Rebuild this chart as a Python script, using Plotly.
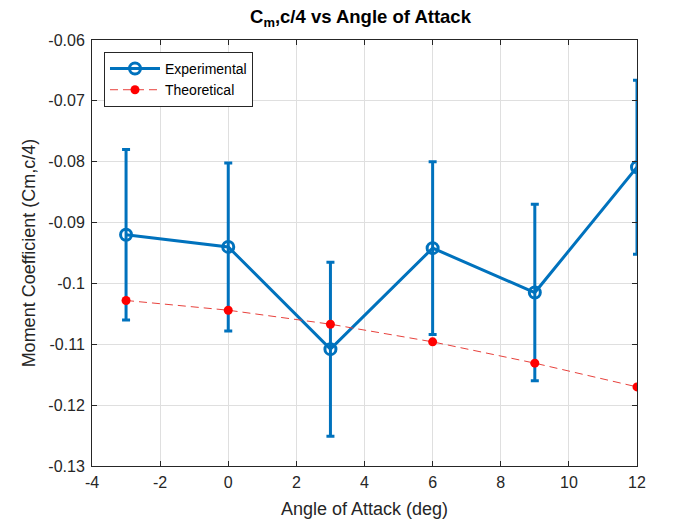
import plotly.graph_objects as go

aoa = [-3, 0, 3, 6, 9, 12]
cm_exp = [-0.0920, -0.0940, -0.1108, -0.0942, -0.1015, -0.0809]
cm_err = [0.0140, 0.0138, 0.0143, 0.0142, 0.0145, 0.0143]
cm_theo = [-0.1028, -0.1044, -0.1067, -0.1096, -0.1131, -0.1170]

x_ticks = [-4, -2, 0, 2, 4, 6, 8, 10, 12]
y_ticks = [-0.06, -0.07, -0.08, -0.09, -0.1, -0.11, -0.12, -0.13]
y_ticktext = ["-0.06", "-0.07", "-0.08", "-0.09", "-0.1", "-0.11", "-0.12", "-0.13"]
x_ticktext = [str(v) for v in x_ticks]

FONT = "Liberation Sans, Arial, Helvetica, sans-serif"
BLUE = "#0072BD"

fig = go.Figure()
fig.add_trace(go.Scatter(
    x=aoa, y=cm_exp, name="Experimental", mode="lines+markers",
    line=dict(color=BLUE, width=3),
    marker=dict(symbol="circle-open", size=11, color=BLUE, line=dict(width=3, color=BLUE)),
    error_y=dict(type="data", array=cm_err, visible=True, color=BLUE, thickness=3, width=4),
))
fig.add_trace(go.Scatter(
    x=aoa, y=cm_theo, name="Theoretical", mode="lines+markers",
    line=dict(color="#E8413C", width=1, dash="8px,5px"),
    marker=dict(symbol="circle", size=9, color="#FF0000"),
))

axis_common = dict(
    showgrid=True, gridcolor="#DFDFDF", gridwidth=1,
    showline=True, linecolor="#262626", linewidth=1, mirror="allticks",
    ticks="inside", ticklen=5, tickcolor="#262626",
    tickfont=dict(family=FONT, size=16, color="#262626"),
    zeroline=False, automargin=False,
)

fig.update_layout(
    width=700, height=525,
    paper_bgcolor="white", plot_bgcolor="white",
    margin=dict(l=92, r=63, t=40, b=59),
    font=dict(family=FONT, color="#262626"),
    title=dict(text="<b>C<sub>m</sub>,c/4 vs Angle of Attack</b>", x=0.515, xanchor="center",
               y=0.968, yanchor="middle", font=dict(family=FONT, size=18.5, color="black")),
    xaxis=dict(range=[-4, 12], tickvals=x_ticks, ticktext=x_ticktext, ticklabelstandoff=2,
               title=dict(text="Angle of Attack (deg)", font=dict(family=FONT, size=18, color="#262626"), standoff=12),
               **axis_common),
    yaxis=dict(range=[-0.13, -0.06], tickvals=y_ticks, ticktext=y_ticktext, ticklabelstandoff=3,
               title=dict(text="Moment Coefficient (Cm,c/4)", font=dict(family=FONT, size=18, color="#262626"), standoff=8),
               **axis_common),
    legend=dict(x=0.022, y=0.972, xanchor="left", yanchor="top",
                bgcolor="white", bordercolor="#262626", borderwidth=1,
                font=dict(family=FONT, size=14, color="black"),
                tracegroupgap=0, itemwidth=50),
    showlegend=True,
)

fig.write_html("out.html")
